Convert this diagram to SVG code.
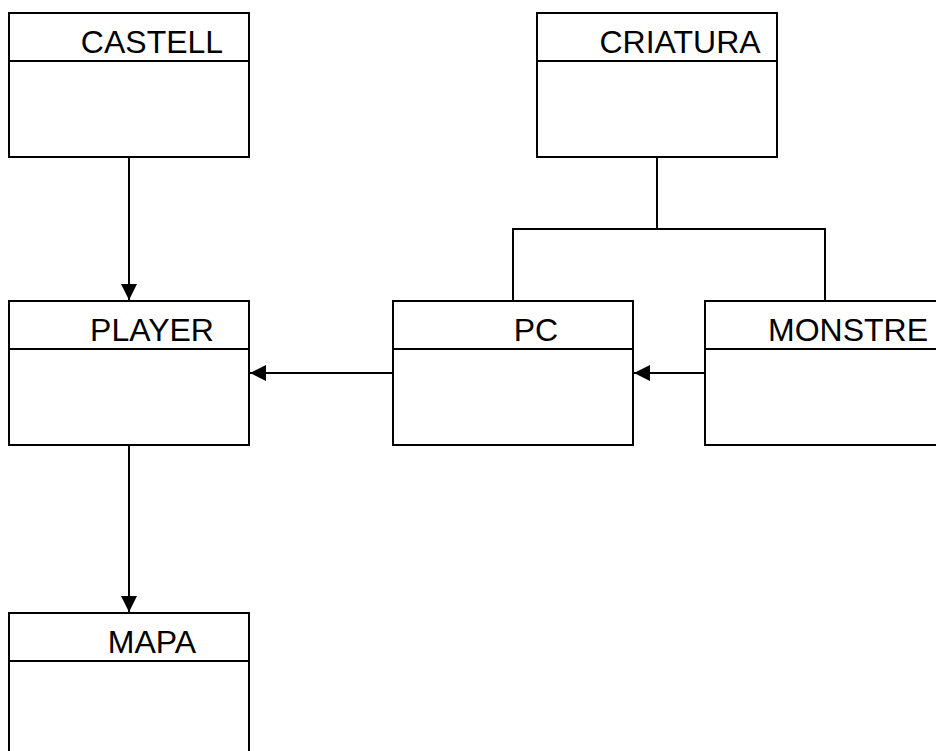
<svg xmlns="http://www.w3.org/2000/svg" width="936" height="751" viewBox="0 0 936 751">
<style>
.box{fill:#fff;stroke:#000;stroke-width:2}
.div{stroke:#000;stroke-width:2}
.lbl{font-family:"Liberation Sans",Arial,sans-serif;font-size:32px;fill:#000;text-anchor:middle}
.con{fill:none;stroke:#000;stroke-width:2}
</style>
<defs>
<marker id="arr" markerUnits="userSpaceOnUse" markerWidth="16" markerHeight="16" refX="16" refY="8" orient="auto">
<path d="M0,0 L16,8 L0,16 Z" fill="#000"/>
</marker>
</defs>
<rect width="936" height="751" fill="#fff"/>
<g id="connectors">
<line class="con" x1="129" y1="157" x2="129" y2="300" marker-end="url(#arr)"/>
<line class="con" x1="129" y1="445" x2="129" y2="612" marker-end="url(#arr)"/>
<line class="con" x1="393" y1="373" x2="250" y2="373" marker-end="url(#arr)"/>
<line class="con" x1="705" y1="373" x2="634" y2="373" marker-end="url(#arr)"/>
<polyline class="con" points="657,157 657,229"/>
<polyline class="con" points="513,301 513,229 825,229 825,301"/>
</g>
<g id="castell">
<rect class="box" x="9" y="13" width="240" height="144"/>
<line class="div" x1="9" y1="61" x2="249" y2="61"/>
<text class="lbl" x="152" y="53">CASTELL</text>
</g>
<g id="criatura">
<rect class="box" x="537" y="13" width="240" height="144"/>
<line class="div" x1="537" y1="61" x2="777" y2="61"/>
<text class="lbl" x="680" y="53">CRIATURA</text>
</g>
<g id="player">
<rect class="box" x="9" y="301" width="240" height="144"/>
<line class="div" x1="9" y1="349" x2="249" y2="349"/>
<text class="lbl" x="152" y="341">PLAYER</text>
</g>
<g id="pc">
<rect class="box" x="393" y="301" width="240" height="144"/>
<line class="div" x1="393" y1="349" x2="633" y2="349"/>
<text class="lbl" x="536" y="341">PC</text>
</g>
<g id="monstre">
<rect class="box" x="705" y="301" width="240" height="144"/>
<line class="div" x1="705" y1="349" x2="945" y2="349"/>
<text class="lbl" x="848" y="341">MONSTRE</text>
</g>
<g id="mapa">
<rect class="box" x="9" y="613" width="240" height="144"/>
<line class="div" x1="9" y1="661" x2="249" y2="661"/>
<text class="lbl" x="152" y="653">MAPA</text>
</g>
</svg>
